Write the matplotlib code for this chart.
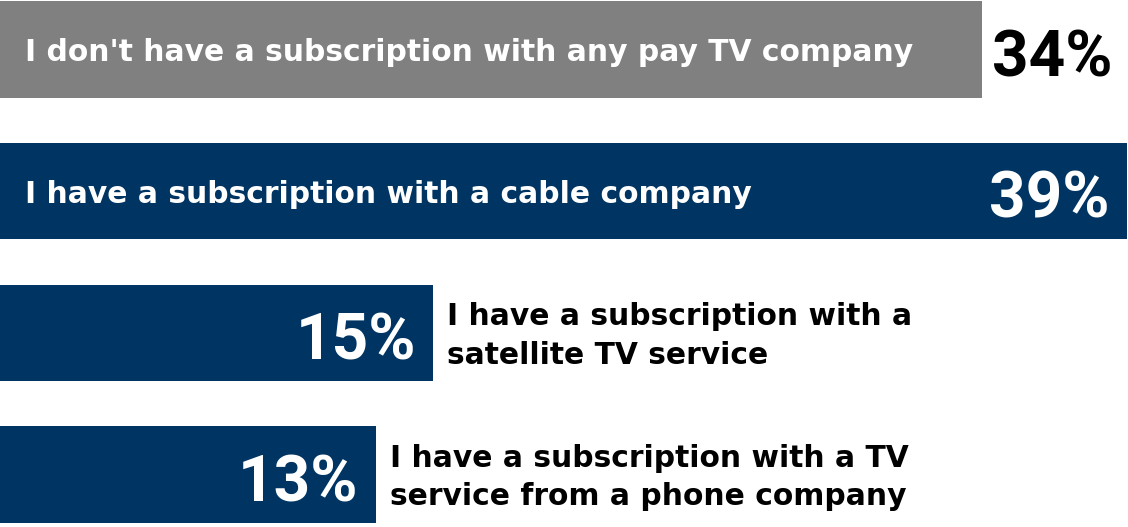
import matplotlib
matplotlib.use("Agg")
import matplotlib.pyplot as plt

# Pay TV subscription shares
labels = [
    "I don't have a subscription with any pay TV company",
    "I have a subscription with a cable company",
    "I have a subscription with a\nsatellite TV service",
    "I have a subscription with a TV\nservice from a phone company",
]
values = [34, 39, 15, 13]
colors = ["#808080", "#003462", "#003462", "#003462"]
label_inside = [True, True, False, False]
value_inside = [False, True, True, True]

LABEL_FONT = "DejaVu Sans"
VALUE_FONT = "Roboto"

fig = plt.figure(figsize=(11.28, 5.27), dpi=100)
ax = fig.add_axes([0, 0, 1, 1])

ys = list(range(len(values)))
ax.barh(ys, values, height=0.68, color=colors, edgecolor="none")

for y, lab, v, lin, vin in zip(ys, labels, values, label_inside, value_inside):
    if lin:
        ax.annotate(lab, (0, y), xytext=(25, -3), textcoords="offset pixels",
                    ha="left", va="center", color="white", fontsize=21.4,
                    fontweight="bold", family=LABEL_FONT)
    else:
        ax.annotate(lab, (v, y), xytext=(14, -3), textcoords="offset pixels",
                    ha="left", va="center", color="black", fontsize=21.4,
                    fontweight="bold", family=LABEL_FONT, linespacing=1.42)
    if vin:
        ax.annotate(f"{v}%", (v, y), xytext=(-17, -9), textcoords="offset pixels",
                    ha="right", va="center", color="white", fontsize=46,
                    fontweight="bold", family=VALUE_FONT)
    else:
        ax.annotate(f"{v}%", (v, y), xytext=(10, -9), textcoords="offset pixels",
                    ha="left", va="center", color="black", fontsize=46,
                    fontweight="bold", family=VALUE_FONT)

ax.set_xlim(0, 39.04)
ax.set_ylim(3.37, -0.35)
ax.axis("off")

fig.savefig("out.png", dpi=100)
